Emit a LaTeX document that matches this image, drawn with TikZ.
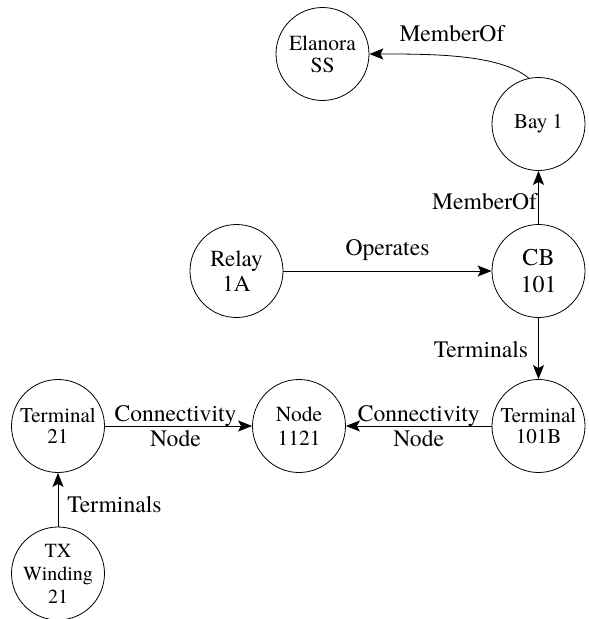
\documentclass[tikz,border=0pt]{standalone}
\usepackage{fontspec}
\IfFontExistsTF{texgyretermes-regular.otf}
  {\setmainfont{texgyretermes-regular.otf}}
  {\setmainfont{Liberation Serif}}
\usetikzlibrary{arrows.meta}
\newcommand\nfs[2]{\rmfamily\fontsize{#1}{#2}\selectfont}
\tikzset{
  ent/.style={circle, draw, line width=0.8pt, minimum size=93pt, inner sep=-8pt, align=center},
  rel/.style={-{Stealth[length=14pt,width=11pt,inset=3pt]}, line width=0.8pt},
  lbl/.style={font=\nfs{23.6}{25}, inner sep=1pt, align=center},
}
\begin{document}
\begin{tikzpicture}[x=1pt,y=-1pt]
\useasboundingbox (0,0) rectangle (589,619);

% entities
\node[ent, font=\nfs{21.5}{21.7}] (elan)  at (322.5,54)  {Elanora\\SS};
\node[ent, font=\nfs{21}{22}]     (bay)   at (538.5,124) {Bay 1};
\node[ent, font=\nfs{23}{25.7}]   (relay) at (236.5,271) {Relay\\1A};
\node[ent, font=\nfs{24}{26.5}]   (cb)    at (538.5,271) {CB\\101};
\node[ent, font=\nfs{21}{21}]     (t21)   at (58,426)    {Terminal\\21};
\node[ent, font=\nfs{21.5}{24}]   (cn)    at (299,426)   {Node\\1121};
\node[ent, font=\nfs{21}{20.5}]   (t101)  at (538.5,426) {Terminal\\101B};
\node[ent, font=\nfs{20}{23}]     (tx)    at (58,573.5)  {TX\\Winding\\21};

% relations
\draw[rel] (bay.102) .. controls +(140:38pt) and +(0:60pt) ..
  node[lbl, pos=0.55, anchor=base, yshift=15pt] {MemberOf} (elan.east);
\draw[rel] (cb) -- node[lbl, midway, anchor=east, yshift=-4.5pt] {MemberOf} (bay);
\draw[rel] (relay) -- node[lbl, midway, anchor=base, yshift=16pt] {Operates} (cb);
\draw[rel] (cb) -- node[lbl, midway, anchor=east, xshift=-9pt, yshift=-1.5pt] {Terminals} (t101);
\draw[rel] (t101) -- node[lbl, midway] {Connectivity\\Node} (cn);
\draw[rel] (t21) -- node[lbl, midway, xshift=-3pt] {Connectivity\\Node} (cn);
\draw[rel] (tx) -- node[lbl, midway, anchor=west, xshift=8pt, yshift=-4.5pt] {Terminals} (t21);
\end{tikzpicture}
\end{document}
